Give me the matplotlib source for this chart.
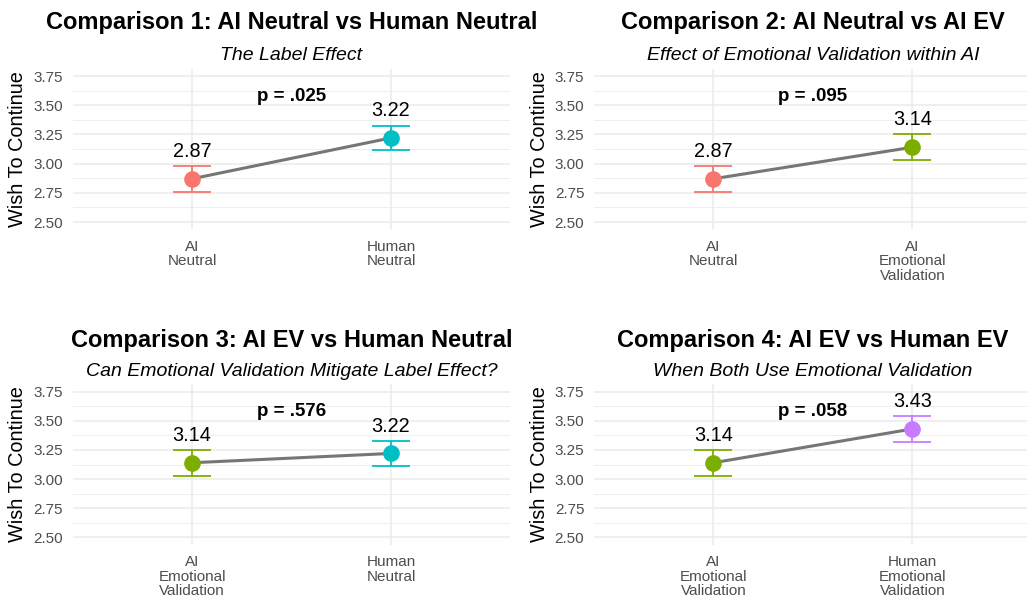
import matplotlib
matplotlib.use("Agg")
import matplotlib.pyplot as plt
from matplotlib.ticker import MultipleLocator

plt.rcParams['font.family'] = ['Liberation Sans', 'DejaVu Sans']

# group summaries (mean and standard error of "wish to continue")
group_names = ["AI Neutral", "AI EV", "Human Neutral", "Human EV"]
group_ticks = ["AI\nNeutral", "AI\nEmotional\nValidation", "Human\nNeutral", "Human\nEmotional\nValidation"]
group_means = [2.87, 3.14, 3.22, 3.43]
group_se = [0.11, 0.11, 0.105, 0.11]
group_colors = ["#F8766D", "#7CAE00", "#00BFC4", "#C77CFF"]

# the four pairwise comparisons
comp_pairs = [(0, 2), (0, 1), (1, 2), (1, 3)]
comp_titles = ["Comparison 1: AI Neutral vs Human Neutral",
               "Comparison 2: AI Neutral vs AI EV",
               "Comparison 3: AI EV vs Human Neutral",
               "Comparison 4: AI EV vs Human EV"]
comp_subtitles = ["The Label Effect",
                  "Effect of Emotional Validation within AI",
                  "Can Emotional Validation Mitigate Label Effect?",
                  "When Both Use Emotional Validation"]
comp_p = [".025", ".095", ".576", ".058"]

W, H = 1027, 603
fig = plt.figure(figsize=(W / 100, H / 100), dpi=100)

unit = 199  # pixels per category step
cols = [72.6, 594]
rows = [(68.7, 229.3, 28.5, 60.5), (384.4, 544.6, 346.5, 375.5)]


def draw_panel(k):
    left = cols[k % 2]
    top, bottom, title_y, sub_y = rows[k // 2]
    right = min(left + 2.2 * unit, W)
    ax = fig.add_axes([left / W, 1 - bottom / H, (right - left) / W, (bottom - top) / H])

    i, j = comp_pairs[k]
    xs = [1, 2]
    ms = [group_means[i], group_means[j]]
    ses = [group_se[i], group_se[j]]
    cs = [group_colors[i], group_colors[j]]

    ax.plot(xs, ms, color="#767676", lw=2.2, zorder=3, solid_capstyle="butt")
    for x, m, s, c in zip(xs, ms, ses, cs):
        ax.errorbar(x, m, yerr=s, color=c, lw=1.3, capsize=14, capthick=1.3, zorder=2)
        ax.plot(x, m, "o", color=c, ms=12, mec="none", zorder=4)
        ax.text(x, m + s + 0.08, f"{m:.2f}", ha="center", va="baseline", fontsize=14.3)
    ax.text(1.5, 3.54, f"p = {comp_p[k]}", ha="center", va="baseline",
            fontsize=13.5, fontweight="bold")

    ax.set_xlim(0.4, 0.4 + (right - left) / unit)
    ax.set_ylim(2.4375, 3.8125)
    ax.set_xticks(xs)
    ax.set_xticklabels([group_ticks[i], group_ticks[j]], linespacing=1.05)
    ax.yaxis.set_major_locator(MultipleLocator(0.25))
    ax.yaxis.set_minor_locator(MultipleLocator(0.125))
    ax.set_yticks([2.5, 2.75, 3.0, 3.25, 3.5, 3.75])
    ax.set_yticklabels([f"{v:.2f}" for v in [2.5, 2.75, 3.0, 3.25, 3.5, 3.75]])
    ax.tick_params(axis="both", which="both", length=0, labelsize=11, labelcolor="#4D4D4D")
    ax.tick_params(axis="y", pad=7)
    ax.tick_params(axis="x", pad=7.5)
    ax.grid(which="major", color="#EBEBEB", lw=1.1)
    ax.grid(which="minor", axis="y", color="#EBEBEB", lw=0.6)
    ax.set_axisbelow(True)
    for sp in ax.spines.values():
        sp.set_visible(False)
    ax.set_ylabel("Wish To Continue", fontsize=14.3)
    ax.yaxis.set_label_coords(-0.105, 0.5)

    cx = (left + 1.1 * unit) / W
    fig.text(cx, 1 - title_y / H, comp_titles[k], ha="center", va="baseline",
             fontsize=17, fontweight="bold")
    fig.text(cx, 1 - sub_y / H, comp_subtitles[k], ha="center", va="baseline",
             fontsize=14, style="italic")


for k in range(4):
    draw_panel(k)

fig.savefig("out.png", dpi=100, facecolor="white")
